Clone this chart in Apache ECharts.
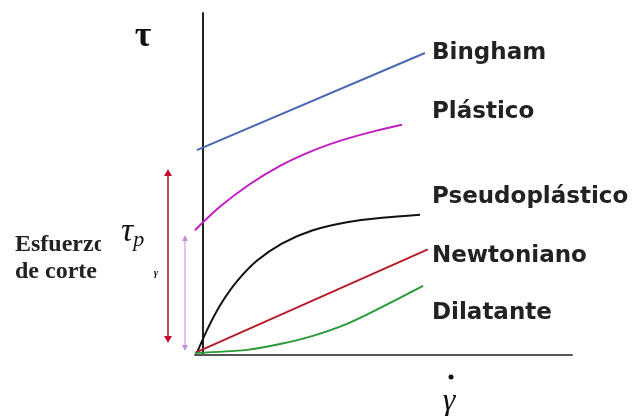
<!DOCTYPE html>
<html>
<head>
<meta charset="utf-8">
<script src="https://cdn.jsdelivr.net/npm/echarts@6/dist/echarts.min.js"></script>
<style>
  html, body { margin: 0; padding: 0; background: #fff; }
  #chart { width: 633px; height: 416px; }
</style>
</head>
<body>
<div id="chart"></div>
<script>
// Shear rate (x) vs shear stress (y) for common rheological models
const modelNames = ['Bingham', 'Plástico', 'Pseudoplástico', 'Newtoniano', 'Dilatante'];
const modelColors = ['#4a68b0', '#c01ec0', '#111111', '#b81c2c', '#2a9a38'];

const bingham = [[-1.5, 59.9], [60.2, 88.3]];
const plastico = [[-2.0, 36.5], [4.8, 43.4], [12.9, 50.0], [21.0, 55.3], [29.1, 59.4],
                  [37.2, 62.6], [45.3, 65.1], [54.0, 67.3]];
const pseudoplastico = [[-1.5, 0.6], [1.8, 8.5], [5.3, 15.4], [9.4, 21.6], [14.8, 27.6], [21.5, 32.6],
                        [29.7, 36.4], [39.1, 38.8], [48.6, 40.1], [58.9, 41.0]];
const newtoniano = [[-2.0, 0.6], [61.0, 30.9]];
const dilatante = [[-2.0, 0.6], [12.0, 1.5], [21.0, 3.2], [29.9, 5.6], [39.1, 9.1], [48.0, 13.7], [59.7, 20.2]];

const seriesData = [bingham, plastico, pseudoplastico, newtoniano, dilatante];
const smoothFlags = [false, true, true, false, true];

const chart = echarts.init(document.getElementById('chart'), null, { renderer: 'canvas' });

const labelFont = 'bold 23px "DejaVu Sans", sans-serif';
const labelY = [53, 112, 197, 256, 313];

function arrowHead(x, y, up, w, h, color) {
  const d = up ? -1 : 1;
  return {
    type: 'polygon',
    shape: { points: [[x, y], [x - w / 2, y - d * h], [x + w / 2, y - d * h]] },
    style: { fill: color },
    silent: true
  };
}

const graphics = [];
// model names on the right
modelNames.forEach((name, i) => {
  graphics.push({
    type: 'text', x: 432, y: labelY[i],
    style: { text: name, font: labelFont, fill: '#222', textVerticalAlign: 'middle', textAlign: 'left' },
    silent: true
  });
});
// axis titles
graphics.push({
  type: 'text', x: 143, y: 37,
  style: { text: 'τ', font: 'bold 36px "Liberation Serif", serif', fill: '#111', textAlign: 'center', textVerticalAlign: 'middle' }
});
graphics.push({
  type: 'text', x: 449, y: 402,
  style: { text: 'γ', font: 'italic 32px "Liberation Serif", serif', fill: '#111', textAlign: 'center', textVerticalAlign: 'middle' }
});
graphics.push({ type: 'circle', shape: { cx: 451, cy: 377, r: 2.5 }, style: { fill: '#111' } });
// left caption
graphics.push({
  type: 'text', x: 15, y: 245,
  style: { text: 'Esfuerzo', font: 'bold 24px "Liberation Serif", serif', fill: '#222', textVerticalAlign: 'middle' }
});
graphics.push({
  type: 'text', x: 15, y: 272,
  style: { text: 'de corte', font: 'bold 24px "Liberation Serif", serif', fill: '#222', textVerticalAlign: 'middle' }
});
graphics.push({ type: 'rect', shape: { x: 101, y: 228, width: 19, height: 60 }, style: { fill: '#fff' } });
// yield stress marker
graphics.push({
  type: 'text', x: 121, y: 232,
  style: {
    text: '{a|τ}{b|p}',
    rich: {
      a: { font: 'italic 34px "Liberation Serif", serif', fill: '#111' },
      b: { font: 'italic 22px "Liberation Serif", serif', fill: '#111', padding: [16, 0, 0, 0] }
    },
    textVerticalAlign: 'middle'
  }
});
graphics.push({
  type: 'text', x: 156, y: 273,
  style: { text: 'γ', font: 'bold italic 11px "Liberation Serif", serif', fill: '#222', textAlign: 'center', textVerticalAlign: 'middle' }
});
// dark red double arrow
graphics.push({ type: 'line', shape: { x1: 168, y1: 174, x2: 168, y2: 338 }, style: { stroke: '#b8505e', lineWidth: 2 } });
graphics.push(arrowHead(168, 169, true, 8, 7, '#c8102e'));
graphics.push(arrowHead(168, 343, false, 8, 7, '#c8102e'));
// lilac double arrow
graphics.push({ type: 'line', shape: { x1: 185, y1: 240, x2: 185, y2: 346 }, style: { stroke: '#e2aaea', lineWidth: 1.5 } });
graphics.push(arrowHead(185, 235, true, 6, 6, '#c48ee0'));
graphics.push(arrowHead(185, 351, false, 6, 6, '#c48ee0'));

const option = {
  animation: false,
  backgroundColor: '#fff',
  grid: { left: 195, right: 61, top: 13, bottom: 61, containLabel: false },
  xAxis: {
    type: 'value', min: -2, max: 100,
    axisLine: { show: true, onZero: true, lineStyle: { color: '#555', width: 2 } },
    axisTick: { show: false }, axisLabel: { show: false }, splitLine: { show: false }
  },
  yAxis: {
    type: 'value', min: 0, max: 100,
    axisLine: { show: true, onZero: true, lineStyle: { color: '#222', width: 2 } },
    axisTick: { show: false }, axisLabel: { show: false }, splitLine: { show: false }
  },
  series: seriesData.map((d, i) => ({
    name: modelNames[i],
    type: 'line',
    data: d,
    smooth: smoothFlags[i] ? 0.3 : false,
    showSymbol: false,
    clip: false,
    z: 3,
    lineStyle: { color: modelColors[i], width: 2 }
  })),
  graphic: graphics
};

chart.setOption(option);
</script>
</body>
</html>
